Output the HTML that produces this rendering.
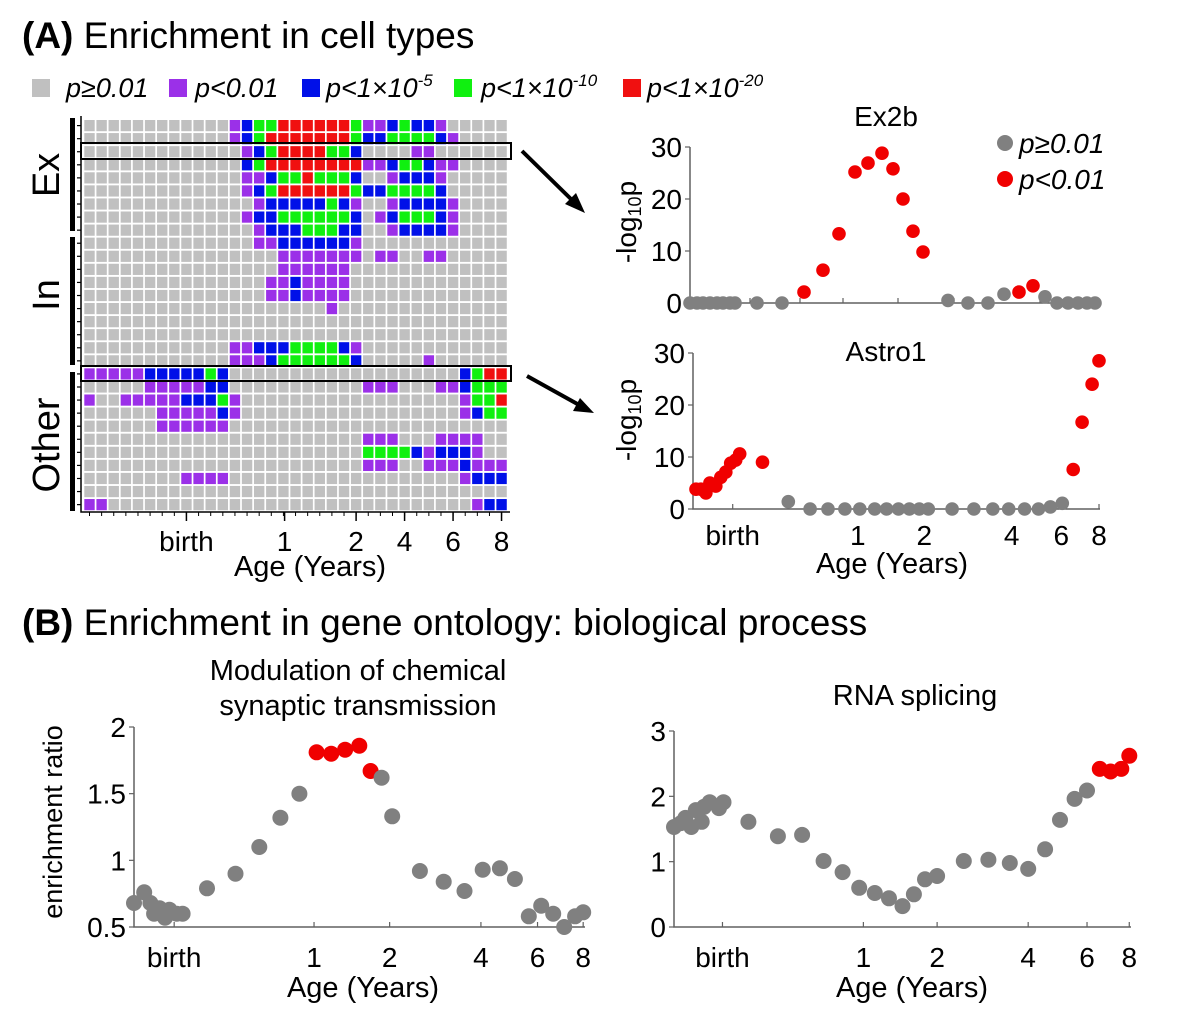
<!DOCTYPE html>
<html><head><meta charset="utf-8"><style>
body{margin:0;background:#fff;}
svg{display:block;font-family:"Liberation Sans",Arial,sans-serif;}
</style></head><body>
<svg id="fig" width="1184" height="1021" viewBox="0 0 1184 1021" xmlns="http://www.w3.org/2000/svg">
<rect width="1184" height="1021" fill="#fff"/>
<text x="22" y="48" font-size="37"><tspan font-weight="bold">(A)</tspan> Enrichment in cell types</text>
<g font-size="27" font-style="italic">
<rect x="32" y="79" width="18" height="18" fill="#c0c0c0"/>
<text x="66" y="97">p≥0.01</text>
<rect x="169" y="79" width="18" height="18" fill="#9b30e8"/>
<text x="195" y="97">p&lt;0.01</text>
<rect x="302" y="79" width="18" height="18" fill="#0010e8"/>
<text x="326" y="97">p&lt;1×10<tspan dy="-11" font-size="17">-5</tspan></text>
<rect x="454" y="79" width="18" height="18" fill="#10f010"/>
<text x="481" y="97">p&lt;1×10<tspan dy="-11" font-size="17">-10</tspan></text>
<rect x="623" y="79" width="18" height="18" fill="#f01010"/>
<text x="647" y="97">p&lt;1×10<tspan dy="-11" font-size="17">-20</tspan></text>
</g>
<g id="heat"></g>
<g>
<rect x="70" y="118" width="5" height="113" fill="#000"/>
<rect x="70" y="237" width="5" height="128" fill="#000"/>
<rect x="70" y="372" width="5" height="139" fill="#000"/>
<text transform="translate(59,175) rotate(-90)" text-anchor="middle" font-size="38">Ex</text>
<text transform="translate(59,295) rotate(-90)" text-anchor="middle" font-size="38">In</text>
<text transform="translate(59,445) rotate(-90)" text-anchor="middle" font-size="38">Other</text>
</g>
<g>
<line x1="522" y1="151" x2="574" y2="202" stroke="#000" stroke-width="4"/>
<polygon points="585,213 565,204 576,193" fill="#000"/>
<line x1="527" y1="376" x2="581" y2="406" stroke="#000" stroke-width="4"/>
<polygon points="594,413 573,411 580,398" fill="#000"/>
</g>
<g id="ex2b"></g>
<g id="astro"></g>
<text x="22" y="635" font-size="37"><tspan font-weight="bold">(B)</tspan> Enrichment in gene ontology: biological process</text>
<g id="syn"></g>
<g id="rna"></g>
</svg>
<script>
// ---------- heatmap data ----------
function Z(n){return '0'.repeat(n);}
const heatRows = [
"00000000000012334444443112322100000",
"00000000000012344444443223333210000",
"00000000000001234444332000011000000",
"00000000000002344444444112332110000",
"00000000000001123343332001222100000",
"00000000000001234444443223333200000",
"00000000000000122222321001222210000",
"00000000000001223333332012333210000",
"00000000000000122233322001222210000",
"00000000000000112222221000000000000",
"00000000000000001111111011001100000",
"00000000000000001111110000000000000",
"00000000000000011211110000000000000",
"00000000000000011211110000000000000",
"00000000000000000000100000000000000",
Z(35),
Z(35),
"00000000000011222333321000000000000",
"00000000000011123333332000001000000",
"111112222232"+Z(19)+"2344",
"00000111112200000000000111000112333",
"1001111122231"+Z(18)+"1334",
"0000001111121"+Z(18)+"1233",
"000000111111"+Z(23),
Z(23)+"111000111100",
Z(23)+"333321222100",
Z(23)+"111001112111",
"000000001111"+Z(19)+"1222",
Z(35),
"11"+Z(30)+"122"
];
const heatLevels = ["p≥0.01","p<0.01","p<1e-5","p<1e-10","p<1e-20"];
const heatTickLabels = ["birth","1","2","4","6","8"];
const heatTickCols = [8.5, 16.6, 22.5, 26.5, 30.5, 34.5];

// ---------- Ex2b / Astro1 data (x = developmental stage units) ----------
const ex2bX = [0,7,13,20,27,33,40,45,67,92,114,133,149,165,178,192,203,213,223,233,258,278,298,314,329,343,355,367,378,388,397,405];
const ex2bY = [0,0,0,0,0,0,0,0,0,0,2.1,6.3,13.3,25.2,26.9,28.8,25.8,20,13.8,9.8,0.5,0,0,1.7,2.1,3.3,1.2,0,0,0,0,0];
const astroX = [3,8,13,17,23,28,33,38,43,47,70,96,118,136,153,168,183,195,207,218,228,237,261,283,302,318,334,348,360,372,383,392,402,409];
const astroY = [3.8,3.8,3.1,5.0,4.4,6.1,7.1,8.8,9.4,10.6,9.0,1.4,0,0,0,0,0,0,0,0,0,0,0,0,0,0,0,0,0.4,1.1,7.6,16.7,24,28.5];
const cellTicks = [0,10,20,30];
const cellXTickLabels = ["birth","1","2","4","6","8"];
const cellXTickPos = [40,166,233,321,371,409];

// ---------- GO data ----------
const synX = [0,28,45,55,70,85,97,117,133,200,278,343,401,453,500,540,578,617,648,678,707,783,848,905,955,1002,1043,1081,1115,1148,1178,1208,1230];
const synY = [0.68,0.76,0.68,0.60,0.64,0.57,0.63,0.60,0.60,0.79,0.90,1.10,1.32,1.50,1.81,1.80,1.83,1.86,1.67,1.62,1.33,0.92,0.84,0.77,0.93,0.94,0.86,0.58,0.66,0.60,0.50,0.58,0.61];
const synSig = [0,0,0,0,0,0,0,0,0,0,0,0,0,0,1,1,1,1,1,0,0,0,0,0,0,0,0,0,0,0,0,0,0];
const synTicks = [0.5,1,1.5,2];
const rnaX = [0,20,33,50,63,80,87,103,130,143,215,300,370,432,487,535,580,621,660,693,725,760,837,908,970,1023,1072,1115,1157,1193,1230,1261,1292,1315];
const rnaY = [1.53,1.59,1.67,1.53,1.79,1.61,1.84,1.91,1.82,1.91,1.61,1.39,1.41,1.01,0.84,0.60,0.52,0.44,0.32,0.50,0.73,0.78,1.01,1.03,0.98,0.89,1.19,1.64,1.96,2.09,2.42,2.38,2.42,2.62];
const rnaSig = [0,0,0,0,0,0,0,0,0,0,0,0,0,0,0,0,0,0,0,0,0,0,0,0,0,0,0,0,0,0,1,1,1,1];
const rnaTicks = [0,1,2,3];
const goXTickLabels = ["birth","1","2","4","6","8"];
const synXTickPos = [110,493,700,950,1105,1230];
const rnaXTickPos = [140,547,760,1023,1193,1315];

const NS='http://www.w3.org/2000/svg';
function mk(parent,tag,attrs,text){const e=document.createElementNS(NS,tag);for(const k in attrs)e.setAttribute(k,attrs[k]);if(text!==undefined)e.textContent=text;parent.appendChild(e);return e;}
function lin(d0,d1,r0,r1){return v=>r0+(v-d0)/(d1-d0)*(r1-r0);}

// ---------- heatmap ----------
(function(){
  const g=document.getElementById('heat');
  const colors=['#c0c0c0','#9b30e8','#0010e8','#10f010','#f01010'];
  const cx=c=>84.3+c*12.12, ry=r=>120+r*13.07;
  heatRows.forEach((row,r)=>{
    for(let c=0;c<row.length;c++){
      const lv=+row[c];
      const e=mk(g,'rect',{x:cx(c).toFixed(2),y:ry(r).toFixed(2),width:10.4,height:11.2,fill:colors[lv]});
      
      
    }
    mk(g,'line',{x1:77,x2:81,y1:ry(r)+5.6,y2:ry(r)+5.6,stroke:'#000','stroke-width':1.2});
  });
  const ax=mk(g,'path',{d:'M81,116 V512 H510',fill:'none',stroke:'#000','stroke-width':1.5});
  
  
  for(let c=0;c<35;c++) mk(g,'line',{x1:cx(c)+5.2,x2:cx(c)+5.2,y1:512,y2:516,stroke:'#000','stroke-width':1});
  heatTickCols.forEach((c,i)=>{
    const x=cx(c)-0.9;
    mk(g,'line',{x1:x,x2:x,y1:512,y2:521,stroke:'#000','stroke-width':1.5});
    const t=mk(g,'text',{x:x,y:551,'text-anchor':'middle','font-size':28},heatTickLabels[i]);
    
    
  });
  const xl=mk(g,'text',{x:310,y:576,'text-anchor':'middle','font-size':29},'Age (Years)');
  
  
  const b1=mk(g,'rect',{x:81,y:143,width:430,height:16,fill:'none',stroke:'#000','stroke-width':2});
  
  
  const b2=mk(g,'rect',{x:81,y:366,width:430,height:15,fill:'none',stroke:'#000','stroke-width':2});
  
  
})();

// ---------- generic scatter ----------
function scatter(id,o){
  const g=document.getElementById(id);
  const sx=lin(o.xd[0],o.xd[1],o.x0,o.x1), sy=lin(o.yd[0],o.yd[1],o.y0,o.y1);
  const ax=mk(g,'path',{d:`M${o.x0},${o.y1} V${o.y0} H${o.x1}`,fill:'none',stroke:'#606060','stroke-width':1.5});
  
  
  o.yticks.forEach(v=>{
    mk(g,'line',{x1:o.x0-5,x2:o.x0,y1:sy(v),y2:sy(v),stroke:'#606060','stroke-width':1.2});
    const t=mk(g,'text',{x:o.x0-8,y:sy(v)+10,'text-anchor':'end','font-size':28},String(v));
    
    
  });
  if(o.xtickPos){
    o.xtickPos.forEach((p,i)=>{
      mk(g,'line',{x1:sx(p),x2:sx(p),y1:o.y0,y2:o.y0-5,stroke:'#606060','stroke-width':1.2});
      if(o.xtickLabels){
        const t=mk(g,'text',{x:sx(p),y:o.xlabY,'text-anchor':'middle','font-size':28},o.xtickLabels[i]);
        
        
      }
    });
  }
  o.xs.forEach((xv,i)=>{
    const red=o.sig?o.sig[i]:(o.ys[i]>=2);
    const c=mk(g,'circle',{cx:sx(xv).toFixed(1),cy:sy(o.ys[i]).toFixed(1),r:o.r,fill:red?'#f00000':'#808080'});
    
    
  });
  return g;
}

function txt(g,x,y,s,attrs,name){const t=mk(g,'text',Object.assign({x:x,y:y,'text-anchor':'middle','font-size':29},attrs||{}),s);return t;}

// Ex2b
(function(){
  const g=scatter('ex2b',{xs:ex2bX,ys:ex2bY,xd:[0,410],yd:[0,30],x0:690,x1:1100,y0:303,y1:147,yticks:cellTicks,r:6.8,xtickPos:[60,110,153,208,264,350,375,398]});
  txt(g,886,126,'Ex2b',{'font-size':28},'ex2b-title');
  const yl=mk(g,'text',{transform:'translate(636,222) rotate(-90)','text-anchor':'middle','font-size':28},'');
  yl.innerHTML='-log<tspan font-size="18" dy="5">10</tspan><tspan dy="-5">p</tspan>';
  
  
  const l1=mk(g,'circle',{cx:1005,cy:143,r:8,fill:'#808080'});
  
  
  txt(g,1019,153,'p≥0.01',{'text-anchor':'start','font-style':'italic','font-size':28},'legend-label-ns');
  const l2=mk(g,'circle',{cx:1005,cy:179,r:8,fill:'#f00000'});
  
  
  txt(g,1019,189,'p<0.01',{'text-anchor':'start','font-style':'italic','font-size':28},'legend-label-sig');
})();
// Astro1
(function(){
  const g=scatter('astro',{xs:astroX,ys:astroY,xd:[0,410],yd:[0,30],x0:693,x1:1100,y0:509,y1:353,yticks:cellTicks,r:6.8,xtickPos:cellXTickPos,xtickLabels:cellXTickLabels,xlabY:545});
  txt(g,886,361,'Astro1',{'font-size':28},'astro1-title');
  const yl=mk(g,'text',{transform:'translate(636,420) rotate(-90)','text-anchor':'middle','font-size':28},'');
  yl.innerHTML='-log<tspan font-size="18" dy="5">10</tspan><tspan dy="-5">p</tspan>';
  
  
  txt(g,892,573,'Age (Years)',{},'astro1-x-axis-title');
})();
// Synaptic
(function(){
  const g=scatter('syn',{xs:synX,ys:synY,sig:synSig,xd:[0,1235],yd:[0.5,2],x0:134,x1:585,y0:927,y1:727,yticks:synTicks,r:8,xtickPos:synXTickPos,xtickLabels:goXTickLabels,xlabY:967});
  txt(g,358,680,'Modulation of chemical',{},'synaptic-title-line1');
  txt(g,358,715,'synaptic transmission',{},'synaptic-title-line2');
  txt(g,363,997,'Age (Years)',{},'synaptic-x-axis-title');
  txt(g,0,0,'enrichment ratio',{transform:'translate(62,822) rotate(-90)','font-size':27},'synaptic-y-axis-title');
})();
// RNA splicing
(function(){
  const g=scatter('rna',{xs:rnaX,ys:rnaY,sig:rnaSig,xd:[0,1320],yd:[0,3],x0:674,x1:1131,y0:927,y1:731,yticks:rnaTicks,r:8,xtickPos:rnaXTickPos,xtickLabels:goXTickLabels,xlabY:967});
  txt(g,915,705,'RNA splicing',{},'rna-title');
  txt(g,912,997,'Age (Years)',{},'rna-x-axis-title');
})();
</script>
</body></html>
